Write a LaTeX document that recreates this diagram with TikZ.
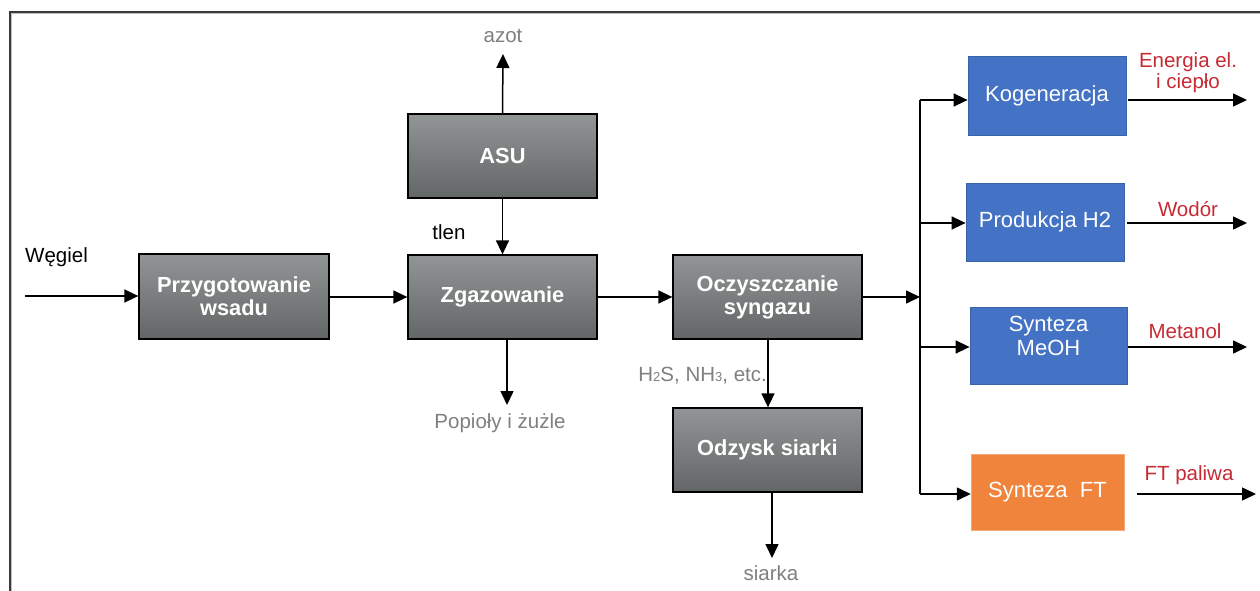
\documentclass[tikz,border=0pt]{standalone}
\usepackage{fontspec}
\setmainfont{Liberation Sans}
\usetikzlibrary{arrows.meta}
\definecolor{gtop}{HTML}{929595}
\definecolor{gbot}{HTML}{636666}
\definecolor{bfill}{HTML}{4472C4}
\definecolor{bedge}{HTML}{3A62A8}
\definecolor{ofill}{HTML}{F0843C}
\definecolor{redtxt}{HTML}{C62A33}
\definecolor{graytxt}{HTML}{7F7F7F}
\definecolor{framec}{HTML}{3A3A3A}
\tikzset{
  graybox/.style={draw=black, line width=1.3pt, top color=gtop, bottom color=gbot,
    text=white, font=\bfseries\fontsize{21.8}{23}\selectfont, align=center, inner sep=0pt},
  bluebox/.style={draw=bedge, line width=0.8pt, fill=bfill, text=white,
    font=\fontsize{22}{24}\selectfont, align=center, inner sep=0pt},
  orangebox/.style={draw=ofill!70!white, line width=0.5pt, fill=ofill, text=white,
    font=\fontsize{22}{24}\selectfont, align=center, inner sep=0pt},
  arr/.style={line width=1.5pt, -{Triangle[length=14pt,width=13pt]}},
  lbl/.style={font=\fontsize{20.5}{21}\selectfont, inner sep=0pt},
  graylbl/.style={lbl, text=graytxt},
  redlbl/.style={lbl, text=redtxt, align=center},
}
\begin{document}
\begin{tikzpicture}[x=1pt,y=-1pt]
\useasboundingbox (0,0) rectangle (1260,591);
% frame
\draw[framec, line width=1.3pt] (10,591) -- (10,12) -- (1260,12);
\draw[gray!50, line width=0.8pt] (11.8,591) -- (11.8,13.8) -- (1260,13.8);

% gray boxes
\node[graybox, minimum width=190pt, minimum height=85pt] (prep) at (234,296.5) {Przygotowanie\\wsadu};
\node[graybox, minimum width=189pt, minimum height=84pt] (zgaz) at (502.5,297) {Zgazowanie};
\node[graybox, minimum width=189pt, minimum height=84pt] (asu) at (502.5,156) {ASU};
\node[graybox, minimum width=189pt, minimum height=84pt] (ocz) at (767.5,297) {Oczyszczanie\\syngazu};
\node[graybox, minimum width=189pt, minimum height=84pt] (ods) at (767.5,450) {Odzysk siarki};

% product boxes
\node[bluebox, minimum width=158pt, minimum height=79pt] (kog) at (1047,95.5) {Kogeneracja};
\node[bluebox, minimum width=158pt, minimum height=78pt] (h2) at (1045,222) {Produkcja H2};
\node[bluebox, minimum width=157pt, minimum height=77pt, text depth=20pt] (meoh) at (1048.5,345.5) {Synteza\\MeOH};
\node[orangebox, minimum width=153pt, minimum height=76pt] (ft) at (1047.5,492) {Synteza\ \ FT};

% coordinates
\coordinate (win) at (25,296);
\coordinate (azotend) at (503,54);
\coordinate (popend) at (507,405);
\coordinate (siend) at (772,558);
\coordinate (sp0) at (920,297);
\coordinate (sp1) at (920,100);
\coordinate (sp2) at (920,223);
\coordinate (sp3) at (920,347);
\coordinate (sp4) at (920,494);
\coordinate (o1) at (1247,100);
\coordinate (o2) at (1247,223);
\coordinate (o3) at (1247,347);
\coordinate (o4) at (1256,494);

% labels
\node[lbl, anchor=west] (weg) at (25,257) {Węgiel};
\node[graylbl] (azot) at (503,36) {azot};
\node[lbl] (tlen) at (449,232) {tlen};
\node[graylbl] (pop) at (500,423) {Popioły i żużle};
\node[graylbl, anchor=east] (h2s) at (767,376) {H{\fontsize{13}{13}\selectfont 2}S, NH{\fontsize{13}{13}\selectfont 3}, etc.};
\node[graylbl] (siarka) at (771,573) {siarka};
\node[redlbl, font=\fontsize{20.5}{21}\selectfont] (energ) at (1188,73) {Energia el.\\i ciepło};
\node[redlbl] (wod) at (1188,209) {Wodór};
\node[redlbl] (met) at (1185,331) {Metanol};
\node[redlbl] (ftp) at (1189,475) {FT paliwa};

% connectors
\draw[arr] (win) -- (prep.west |- win);
\draw[arr] (prep.east |- zgaz.west) -- (zgaz.west);
\draw[arr] (asu.south) -- (zgaz.north);
\draw[arr] (asu.north) -- (azotend);
\draw[arr] (popend |- zgaz.south) -- (popend);
\draw[arr] (zgaz.east) -- (ocz.west);
\draw[arr] (ocz.east) -- (sp0);
\draw[line width=1.5pt] (sp1) -- (sp4);
\draw[arr] (sp1) -- (sp1 -| kog.west);
\draw[arr] (sp2) -- (sp2 -| h2.west);
\draw[arr] (sp3) -- (sp3 -| meoh.west);
\draw[arr] (sp4) -- (sp4 -| ft.west);
\draw[arr] ([xshift=0.5pt]ocz.south) -- ([xshift=0.5pt]ods.north);
\draw[arr] (siend |- ods.south) -- (siend);
\draw[arr] ([xshift=2pt]kog.east |- o1) -- (o1);
\draw[arr] ([xshift=3pt]h2.east |- o2) -- (o2);
\draw[arr] ([xshift=1pt]meoh.east |- o3) -- (o3);
\draw[arr] ([xshift=13pt]ft.east |- o4) -- (o4);
\end{tikzpicture}
\end{document}
